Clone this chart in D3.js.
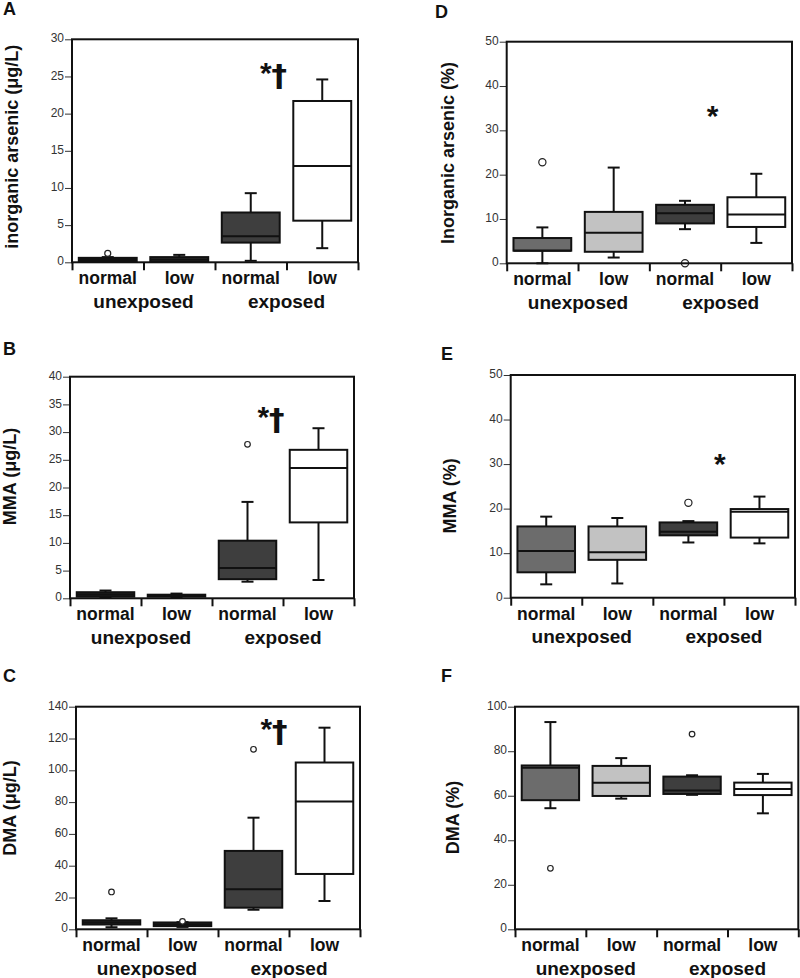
<!DOCTYPE html>
<html>
<head>
<meta charset="utf-8">
<script src="https://cdn.jsdelivr.net/npm/d3@7"></script>
<style>
  body { margin: 0; background: #fff; }
  svg text { font-family: "Liberation Sans", Arial, Helvetica, sans-serif; }
</style>
</head>
<body>
<div id="container"></div>
<script>
/* categories and groups shared by all panels */
const categories = ["normal", "low", "normal", "low"];
const groups = ["unexposed", "exposed"];

/* box stats: [min, q1, median, q3, max] per category */
const inasConcStats = [[0.05, 0.1, 0.35, 0.6, 0.7], [0.1, 0.15, 0.4, 0.7, 1.0], [0.2, 2.65, 3.5, 6.7, 9.3], [1.9, 5.6, 12.95, 21.7, 24.6]];
const inasConcOutliers = [[1.2], [], [], []];
const mmaConcStats = [[0.2, 0.3, 0.7, 1.1, 1.4], [0.2, 0.3, 0.45, 0.65, 0.85], [3.0, 3.45, 5.45, 10.4, 17.4], [3.3, 13.7, 23.5, 26.8, 30.7]];
const mmaConcOutliers = [[], [], [27.8], []];
const dmaConcStats = [[1.3, 3.0, 4.2, 5.7, 6.9], [1.5, 2.0, 3.0, 4.3, 4.5], [12.3, 13.6, 25.2, 49.3, 70.2], [17.8, 34.8, 80.4, 104.9, 126.8]];
const dmaConcOutliers = [[23.5], [5.0], [113.2], []];
const inasPctStats = [[0, 2.85, 2.85, 5.7, 8.1], [1.3, 2.6, 6.9, 11.6, 21.6], [7.7, 9.0, 11.3, 13.2, 14.1], [4.6, 8.2, 11.0, 14.9, 20.2]];
const inasPctOutliers = [[22.8], [], [0], []];
const mmaPctStats = [[3.0, 5.7, 10.5, 16.0, 18.2], [3.2, 8.5, 10.2, 16.0, 17.9], [12.4, 14.0, 14.8, 16.9, 17.2], [12.2, 13.5, 19.3, 19.9, 22.7]];
const mmaPctOutliers = [[], [], [21.3], []];
const dmaPctStats = [[54.4, 58.0, 72.6, 73.6, 93.1], [58.7, 59.9, 65.8, 73.4, 76.9], [60.4, 60.8, 62.4, 68.6, 69.2], [52.1, 60.3, 63.0, 65.9, 69.8]];
const dmaPctOutliers = [[27.4], [], [87.7], []];

/* y tick values */
const ticksInasConc = [0, 5, 10, 15, 20, 25, 30];
const ticksMmaConc = [0, 5, 10, 15, 20, 25, 30, 35, 40];
const ticksDmaConc = [0, 20, 40, 60, 80, 100, 120, 140];
const ticksInasPct = [0, 10, 20, 30, 40, 50];
const ticksMmaPct = [0, 10, 20, 30, 40, 50];
const ticksDmaPct = [0, 20, 40, 60, 80, 100];

/* significance marks: [text, y value] */
const markInasConc = ["*†", 24.9];
const markMmaConc = ["*†", 31.9];
const markDmaConc = ["*†", 123];
const markInasPct = ["*", 32.3];
const markMmaPct = ["*", 29];

/* styles */
const FILLS_CONC_A = ["#1c1c1c", "#555555", "#3e3e3e", "#ffffff"];
const FILLS_CONC = ["#222222", "#2a2a2a", "#3e3e3e", "#ffffff"];
const FILLS_PCT = ["#6c6c6c", "#c2c2c2", "#3e3e3e", "#ffffff"];

const panels = [
  {letter: "A", left: 72, top: 39.3, right: 358, bottom: 262.3, lx: 3, ly: 15, labelX: 12, labelDy: -4, markDx: -13,
   stats: inasConcStats, outliers: inasConcOutliers, ticks: ticksInasConc, label: "inorganic arsenic (μg/L)", mark: markInasConc, fills: FILLS_CONC_A, r: 3},
  {letter: "B", left: 70, top: 376.7, right: 354, bottom: 598.3, lx: 3, ly: 355, labelX: 10, labelDy: -11, markDx: -12,
   stats: mmaConcStats, outliers: mmaConcOutliers, ticks: ticksMmaConc, label: "MMA (μg/L)", mark: markMmaConc, fills: FILLS_CONC, r: 2.8},
  {letter: "C", left: 76, top: 706.7, right: 360, bottom: 929.3, lx: 3, ly: 682, labelX: 10, labelDy: -10, markDx: -15,
   stats: dmaConcStats, outliers: dmaConcOutliers, ticks: ticksDmaConc, label: "DMA (μg/L)", mark: markDmaConc, fills: FILLS_CONC, r: 2.8},
  {letter: "D", left: 506.7, top: 41.7, right: 792, bottom: 263.3, lx: 435, ly: 18, labelX: 447.5, labelDy: 0.5, markDx: -8,
   stats: inasPctStats, outliers: inasPctOutliers, ticks: ticksInasPct, label: "Inorganic arsenic (%)", mark: markInasPct, fills: FILLS_PCT, r: 3.6},
  {letter: "E", left: 510.7, top: 375, right: 795, bottom: 597.7, lx: 441, ly: 360, labelX: 450, labelDy: 9.5, markDx: -4,
   stats: mmaPctStats, outliers: mmaPctOutliers, ticks: ticksMmaPct, label: "MMA (%)", mark: markMmaPct, fills: FILLS_PCT, r: 3.6},
  {letter: "F", left: 515, top: 706.7, right: 798.3, bottom: 929.3, lx: 441, ly: 682, labelX: 452.5, labelDy: -0.5, markDx: 0,
   stats: dmaPctStats, outliers: dmaPctOutliers, ticks: ticksDmaPct, label: "DMA (%)", mark: null, fills: FILLS_PCT, r: 2.8}
];

const svg = d3.select("#container")
              .append("svg")
              .attr("width", 800)
              .attr("height", 978);

const drawPanel = (p) => {
  const g = svg.append("g");
  const y = d3.scaleLinear()
              .domain([0, d3.max(p.ticks)])
              .range([p.bottom, p.top]);
  const x = d3.scaleBand()
              .domain(d3.range(categories.length))
              .range([p.left, p.right])
              .paddingInner(0.19)
              .paddingOuter(0.095);
  const xSep = d3.scaleLinear()
                 .domain([0, categories.length])
                 .range([p.left, p.right]);

  /* left axis */
  const yAxis = d3.axisLeft(y).tickValues(p.ticks).tickSize(7).tickPadding(1);
  const ya = g.append("g").attr("transform", "translate(" + p.left + ",0)").call(yAxis);
  ya.select(".domain").remove();
  ya.selectAll("line").attr("stroke", "#333").attr("stroke-width", 1);
  ya.selectAll("text").attr("font-size", 12).attr("fill", "#333").attr("dy", "0.22em");

  /* bottom separators */
  const xAxis = d3.axisBottom(xSep).tickValues(d3.range(categories.length + 1)).tickFormat("").tickSize(8).tickSizeOuter(0);
  const xa = g.append("g").attr("transform", "translate(0," + p.bottom + ")").call(xAxis);
  xa.select(".domain").remove();
  xa.selectAll("line").attr("stroke", "#111").attr("stroke-width", 2);

  /* boxes */
  const boxes = g.selectAll(".box")
                 .data(p.stats)
                 .enter()
                 .append("g")
                 .attr("class", "box");
  const cx = (d, i) => x(i) + x.bandwidth() / 2;
  const capW = 12;
  boxes.append("line")
       .attr("x1", cx).attr("x2", cx)
       .attr("y1", (d) => y(d[0])).attr("y2", (d) => y(d[4]))
       .attr("stroke", "#111").attr("stroke-width", 2);
  boxes.append("line")
       .attr("x1", (d, i) => cx(d, i) - capW / 2).attr("x2", (d, i) => cx(d, i) + capW / 2)
       .attr("y1", (d) => y(d[4])).attr("y2", (d) => y(d[4]))
       .attr("stroke", "#111").attr("stroke-width", 2);
  boxes.append("line")
       .attr("x1", (d, i) => cx(d, i) - capW / 2).attr("x2", (d, i) => cx(d, i) + capW / 2)
       .attr("y1", (d) => y(d[0])).attr("y2", (d) => y(d[0]))
       .attr("stroke", "#111").attr("stroke-width", 2);
  boxes.append("rect")
       .attr("x", (d, i) => x(i))
       .attr("width", x.bandwidth())
       .attr("y", (d) => y(d[3]))
       .attr("height", (d) => Math.max(1, y(d[1]) - y(d[3])))
       .attr("fill", (d, i) => p.fills[i])
       .attr("stroke", "#111").attr("stroke-width", 2);
  boxes.append("line")
       .attr("x1", (d, i) => x(i)).attr("x2", (d, i) => x(i) + x.bandwidth())
       .attr("y1", (d) => y(d[2])).attr("y2", (d) => y(d[2]))
       .attr("stroke", "#111").attr("stroke-width", 2);

  /* outliers */
  p.outliers.forEach((vals, i) => {
    g.selectAll(null)
     .data(vals)
     .enter()
     .append("circle")
     .attr("cx", x(i) + x.bandwidth() / 2)
     .attr("cy", (d) => y(d))
     .attr("r", p.r)
     .attr("fill", "#fff")
     .attr("stroke", "#222")
     .attr("stroke-width", 1.2);
  });

  /* frame */
  g.append("rect")
   .attr("x", p.left).attr("y", p.top)
   .attr("width", p.right - p.left).attr("height", p.bottom - p.top)
   .attr("fill", "none").attr("stroke", "#111").attr("stroke-width", 2);

  /* category and group labels */
  g.selectAll(".cat")
   .data(categories)
   .enter()
   .append("text")
   .attr("x", (d, i) => x(i) + x.bandwidth() / 2)
   .attr("y", p.bottom + 16)
   .attr("dy", "0.35em")
   .attr("text-anchor", "middle")
   .attr("font-size", 17.5).attr("font-weight", "bold").attr("fill", "#111")
   .text((d) => d);
  g.selectAll(".grp")
   .data(groups)
   .enter()
   .append("text")
   .attr("x", (d, i) => xSep(i * 2 + 1))
   .attr("y", p.bottom + 39)
   .attr("dy", "0.35em")
   .attr("text-anchor", "middle")
   .attr("font-size", 19).attr("font-weight", "bold").attr("fill", "#111")
   .text((d) => d);

  /* y label */
  g.append("text")
   .attr("transform", "translate(" + p.labelX + "," + ((p.top + p.bottom) / 2 + p.labelDy) + ") rotate(-90)")
   .attr("dy", "0.35em")
   .attr("text-anchor", "middle")
   .attr("font-size", 18).attr("font-weight", "bold").attr("fill", "#111")
   .text(p.label);

  /* panel letter */
  g.append("text")
   .attr("x", p.lx).attr("y", p.ly)
   .attr("font-size", 18).attr("font-weight", "bold").attr("fill", "#111")
   .text(p.letter);

  /* significance mark: asterisk in sans, dagger in a heavier face */
  if (p.mark) {
    const t = g.append("text")
     .attr("x", xSep(3) + p.markDx)
     .attr("y", y(p.mark[1]))
     .attr("dy", "0.35em")
     .attr("text-anchor", "middle")
     .attr("font-weight", "bold").attr("fill", "#111");
    Array.from(p.mark[0]).forEach((ch) => {
      t.append("tspan")
       .attr("font-family", ch === "*" ? "Liberation Sans, Arial, sans-serif" : "DejaVu Sans, sans-serif")
       .attr("font-size", ch === "*" ? 30 : 31)
       .attr("dy", ch === "*" ? null : "0.1em")
       .text(ch);
    });
  }
};

panels.forEach(drawPanel);
</script>
</body>
</html>
